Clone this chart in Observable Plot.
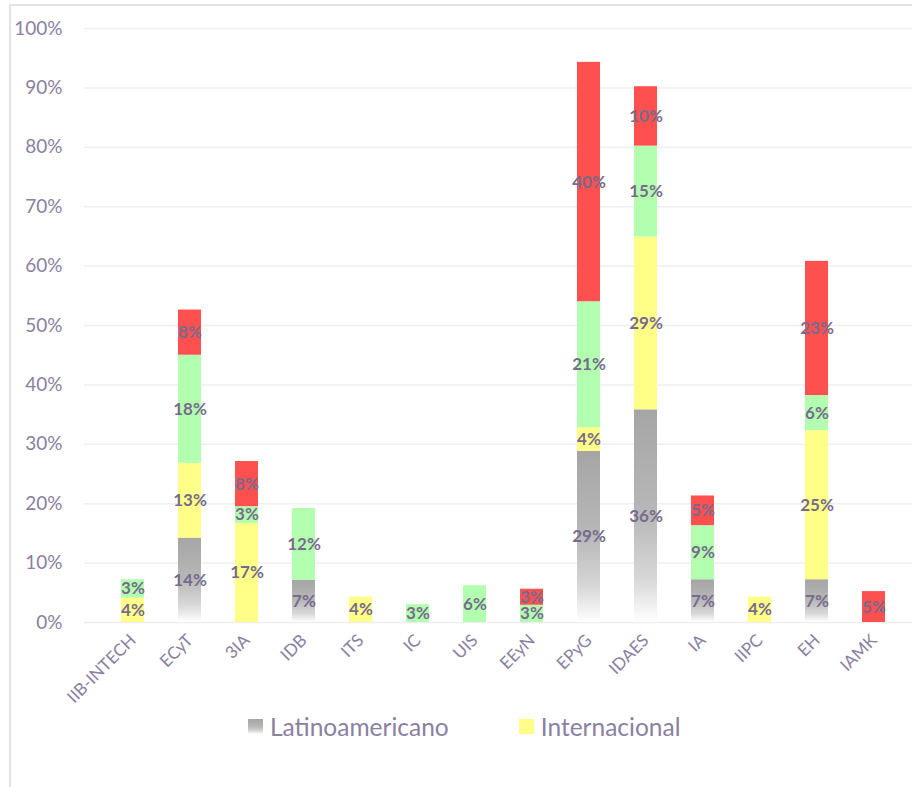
<!DOCTYPE html>
<html>
<head>
<meta charset="utf-8">
<script src="https://cdn.jsdelivr.net/npm/d3@7"></script>
<script src="https://cdn.jsdelivr.net/npm/@observablehq/plot@0.6"></script>
<style>
  html, body { margin: 0; padding: 0; background: #fff; overflow: hidden; }
  #frame { position: absolute; left: 9px; top: 4px; width: 920px; height: 800px;
           border-left: 2px solid #e3e2ea; border-top: 2px solid #e3e2ea; box-sizing: border-box; }
  #chart { position: absolute; left: 0; top: 0; }
  .lg-swatches { margin-left: 248px; margin-top: -2px; font-family: Lato, sans-serif; font-size: 24.5px; color: #8b80a1; }
  .lg-swatch { margin-right: 70px !important; }
  .lg-swatch svg { margin-right: 7px !important; }
</style>
</head>
<body>
<svg width="0" height="0" style="position:absolute">
  <defs>
    <linearGradient id="grayGrad" x1="0" y1="0" x2="0" y2="1">
      <stop offset="0" stop-color="#a5a5a5"/>
      <stop offset="0.5" stop-color="#b8b8b8"/>
      <stop offset="0.8" stop-color="#d8d8d8"/>
      <stop offset="1" stop-color="#ffffff"/>
    </linearGradient>
  </defs>
</svg>
<div id="frame"></div>
<div id="chart"></div>
<script>
const categories = ["IIB-INTECH","ECyT","3IA","IDB","ITS","IC","UIS","EEyN","EPyG","IDAES","IA","IIPC","EH","IAMK"];
const seriesNames = ["Latinoamericano","Internacional","Nacional","Local"];
const latinoamericano = [0, 14.2, 0, 7.1, 0, 0, 0, 0, 28.8, 35.8, 7.2, 0, 7.2, 0];
const internacional   = [4.1, 12.6, 16.7, 0, 4.3, 0, 0, 0, 4.0, 29.1, 0, 4.3, 25.1, 0];
const nacional        = [3.1, 18.2, 2.8, 12.1, 0, 3.0, 6.2, 2.9, 21.2, 15.3, 9.1, 0, 5.9, 0];
const local           = [0, 7.6, 7.6, 0, 0, 0, 0, 2.7, 40.3, 10.0, 5.0, 0, 22.6, 5.2];
const yTicks = [0,10,20,30,40,50,60,70,80,90,100];

const seriesValues = [latinoamericano, internacional, nacional, local];
const colors = ["url(#grayGrad)", "#ffff88", "#b3ffb0", "#ff5050"];

const data = [];
categories.forEach((c, i) => {
  seriesNames.forEach((s, j) => {
    data.push({cat: c, series: s, value: seriesValues[j][i]});
  });
});
const labelData = data.filter(d => d.value > 0);

const tickColor = "#8b80a1";
const plot = Plot.plot({
  width: 912,
  height: 712,
  marginTop: 28,
  marginBottom: 90,
  marginLeft: 84,
  marginRight: 0,
  style: {fontFamily: "Lato, sans-serif", background: "transparent", overflow: "visible"},
  x: {domain: categories, range: [84, 922], padding: 0.595, label: null},
  y: {domain: [0, 100], label: null},
  color: {domain: seriesNames, range: colors},
  marks: [
    Plot.ruleY(yTicks, {stroke: "#efefef", strokeWidth: 1.5}),
    Plot.barY(data, {x: "cat", y: "value", fill: "series"}),
    Plot.text(labelData, Plot.stackY({
      x: "cat", y: "value",
      text: d => Math.round(d.value) + "%",
      fill: "#776b8c", fontWeight: "bold", fontSize: 17
    })),
    Plot.axisY({ticks: yTicks, tickFormat: d => d + "%", tickSize: 0, tickPadding: 22,
                fontSize: 19, color: tickColor, fill: tickColor}),
    Plot.axisX({tickSize: 0, tickPadding: 15, tickRotate: -45, fontSize: 17, fill: tickColor})
  ]
});
const chart = document.getElementById("chart");
chart.appendChild(plot);
const legend = Plot.legend({
  color: {domain: ["Latinoamericano","Internacional"], range: ["url(#grayGrad)", "#ffff88"]},
  swatchSize: 15,
  className: "lg"
});
chart.appendChild(legend);
</script>
</body>
</html>
